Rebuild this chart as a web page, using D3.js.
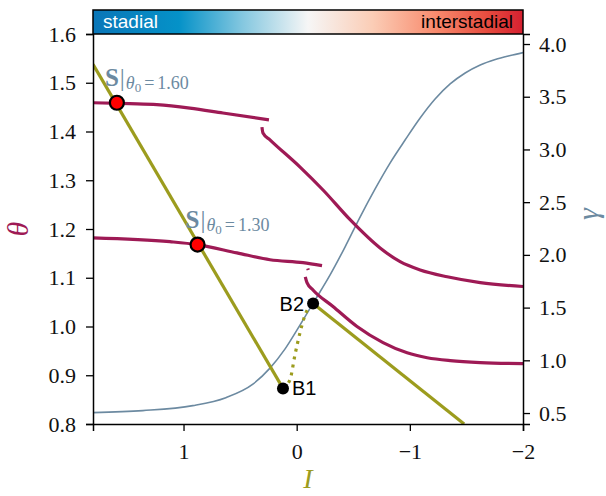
<!DOCTYPE html>
<html>
<head>
<meta charset="utf-8">
<script src="https://cdn.jsdelivr.net/npm/d3@7"></script>
<style>
  body { margin: 0; background: #fff; }
  svg text { font-family: "Liberation Serif", serif; }
</style>
</head>
<body>
<div class="chart"></div>
<script>
const W = 606;
const H = 496;
const margin = { top: 34, right: 83, bottom: 72, left: 93 };
const w = W - margin.left - margin.right;
const h = H - margin.top - margin.bottom;

// tick values
const iTicks = [1, 0, -1, -2];
const thetaTicks = [0.8, 0.9, 1.0, 1.1, 1.2, 1.3, 1.4, 1.5, 1.6];
const gammaTicks = [0.5, 1.0, 1.5, 2.0, 2.5, 3.0, 3.5, 4.0];

// gamma(I)
const gammaI = [1.8, 1.36, 0.918, 0.626, 0.387, 0.236, 0.104, -0.029, -0.162, -0.294, -0.427,
  -0.56, -0.692, -0.825, -0.958, -1.091, -1.223, -1.356, -1.489, -1.622, -1.755, -1.888, -2.0];
const gammaVal = [0.504, 0.523, 0.57, 0.646, 0.774, 0.926, 1.106, 1.334, 1.571, 1.808, 2.074,
  2.359, 2.624, 2.871, 3.089, 3.298, 3.478, 3.621, 3.725, 3.801, 3.853, 3.891, 3.919];

// trajectory theta0 = 1.60
const t160aI = [1.8, 1.475, 1.236, 0.944, 0.652, 0.245];
const t160aTheta = [1.459, 1.457, 1.455, 1.448, 1.438, 1.424];
const t160bI = [0.307, 0.298, 0.236, -0.03, -0.233, -0.472, -0.737, -0.914, -1.091, -1.33, -1.622, -2.0];
const t160bTheta = [1.409, 1.397, 1.383, 1.327, 1.28, 1.219, 1.161, 1.133, 1.116, 1.102, 1.09, 1.082];

// trajectory theta0 = 1.30
const t130aI = [1.8, 1.12, 0.882, 0.528, 0.236, -0.056, -0.224];
const t130aTheta = [1.182, 1.174, 1.168, 1.151, 1.137, 1.131, 1.125];
const t130dotI = [-0.098, -0.102];
const t130dotTheta = [1.119, 1.116];
const t130bI = [-0.076, -0.091, -0.144, -0.321, -0.533, -0.763, -0.976, -1.153, -1.357, -1.622, -2.0];
const t130bTheta = [1.102, 1.09, 1.075, 1.041, 1.0, 0.967, 0.946, 0.936, 0.93, 0.926, 0.924];

// bifurcation diagram
const upperI = [1.8, 0.121];
const upperTheta = [1.538, 0.873];
const unstableI = [0.121, 0.059, 0.015, -0.029, -0.075, -0.145];
const unstableTheta = [0.873, 0.891, 0.942, 0.987, 1.024, 1.047];
const lowerI = [-0.145, -1.48];
const lowerTheta = [1.047, 0.8];

// marked points
const bNames = ["B1", "B2"];
const bI = [0.121, -0.145];
const bTheta = [0.873, 1.047];
const sNames = ["1.60", "1.30"];
const sI = [1.589, 0.876];
const sTheta = [1.459, 1.168];

// colorbar
const cbarStops = [0, 0.2, 0.35, 0.5, 0.65, 0.8, 0.92, 1];
const cbarColors = ["#0a76b8", "#0592c8", "#86c8e0", "#f6f6f6", "#fbcdb6", "#f8896c", "#e64a3e", "#d52030"];

const maroon = "#9e1a55";
const olive = "#9c9c1e";
const slate = "#6c8aa1";

const svg = d3.select(".chart").append("svg")
  .attr("width", W).attr("height", H);

const g = svg.append("g").attr("transform", `translate(${margin.left},${margin.top})`);

const x = d3.scaleLinear().domain([1.8, -2]).range([0, w]);
const yL = d3.scaleLinear().domain([0.8, 1.6]).range([h, 0]);
const yR = d3.scaleLinear().domain([0.396, 4.095]).range([h, 0]);

g.append("clipPath").attr("id", "clip")
  .append("rect").attr("width", w).attr("height", h);

const plot = g.append("g").attr("clip-path", "url(#clip)");

const zip = (a, b) => a.map((v, i) => [v, b[i]]);
const lineL = d3.line().x(d => x(d[0])).y(d => yL(d[1])).curve(d3.curveMonotoneX);
const lineR = d3.line().x(d => x(d[0])).y(d => yR(d[1])).curve(d3.curveMonotoneX);

// gamma
plot.append("path").datum(zip(gammaI, gammaVal))
  .attr("d", lineR).attr("fill", "none").attr("stroke", slate).attr("stroke-width", 1.6);

// trajectories
[[t160aI, t160aTheta], [t160bI, t160bTheta], [t130aI, t130aTheta], [t130dotI, t130dotTheta], [t130bI, t130bTheta]]
  .forEach(([a, b]) => {
    plot.append("path").datum(zip(a, b))
      .attr("d", lineL).attr("fill", "none").attr("stroke", maroon).attr("stroke-width", 3.2);
  });

// bifurcation branches
plot.append("path").datum(zip(upperI, upperTheta))
  .attr("d", lineL).attr("fill", "none").attr("stroke", olive).attr("stroke-width", 3.2);
plot.append("path").datum(zip(lowerI, lowerTheta))
  .attr("d", lineL).attr("fill", "none").attr("stroke", olive).attr("stroke-width", 3.2);
plot.append("path").datum(zip(unstableI, unstableTheta))
  .attr("d", lineL).attr("fill", "none").attr("stroke", olive).attr("stroke-width", 3.2)
  .attr("stroke-dasharray", "3,5");

// B points
g.selectAll(".bpt").data(bNames).enter().append("circle")
  .attr("cx", (d, i) => x(bI[i])).attr("cy", (d, i) => yL(bTheta[i]))
  .attr("r", 6).attr("fill", "#000");

g.selectAll(".blab").data(bNames).enter().append("text")
  .attr("x", (d, i) => x(bI[i]) + (i === 0 ? 9 : -9))
  .attr("y", (d, i) => yL(bTheta[i]) + 7)
  .attr("text-anchor", (d, i) => (i === 0 ? "start" : "end"))
  .style("font-family", "'Liberation Sans', Arial, sans-serif")
  .style("font-size", "20px")
  .text(d => d);

// S points
g.selectAll(".spt").data(sNames).enter().append("circle")
  .attr("cx", (d, i) => x(sI[i])).attr("cy", (d, i) => yL(sTheta[i]))
  .attr("r", 7).attr("fill", "#ff0000").attr("stroke", "#000").attr("stroke-width", 2.2);

const sLab = g.selectAll(".slab").data(sNames).enter().append("text")
  .attr("x", (d, i) => x(sI[i]) - 12)
  .attr("y", (d, i) => yL(sTheta[i]) - 17)
  .attr("fill", slate);
sLab.append("tspan").style("font-weight", "bold").style("font-size", "25px").text("S");
sLab.append("tspan").style("font-size", "25px").attr("dx", 1).text("|");
sLab.append("tspan").style("font-size", "18px").style("font-style", "italic").attr("dx", 1).attr("dy", 3).text("θ");
sLab.append("tspan").style("font-size", "13px").attr("dy", 3).text("0");
sLab.append("tspan").style("font-size", "18px").attr("dx", 3).attr("dy", -3).text("=");
sLab.append("tspan").style("font-size", "18px").attr("dx", 3).text(d => d);

// axes
const axB = g.append("g").attr("transform", `translate(0,${h})`)
  .call(d3.axisBottom(x).tickValues(iTicks).tickFormat(d3.format("d")).tickSizeOuter(0).tickSize(7).tickPadding(12));
const axL = g.append("g")
  .call(d3.axisLeft(yL).tickValues(thetaTicks).tickFormat(d3.format(".1f")).tickSizeOuter(0).tickSize(7).tickPadding(10));
const axR = g.append("g").attr("transform", `translate(${w},0)`)
  .call(d3.axisRight(yR).tickValues(gammaTicks).tickFormat(d3.format(".1f")).tickSizeOuter(0).tickSize(7).tickPadding(9));

[axB, axL, axR].forEach(a => {
  a.selectAll("text").style("font-family", "'Liberation Serif', serif").style("font-size", "22px").attr("fill", "#111");
  a.selectAll("line").attr("stroke", "#000").attr("stroke-width", 1.3);
  a.select(".domain").attr("stroke", "#000").attr("stroke-width", 1.5);
});

// colorbar on top
const grad = svg.append("defs").append("linearGradient").attr("id", "cbar");
grad.selectAll("stop").data(cbarStops).enter().append("stop")
  .attr("offset", d => d).attr("stop-color", (d, i) => cbarColors[i]);
g.append("rect").attr("x", 0).attr("y", -24).attr("width", w).attr("height", 24)
  .attr("fill", "url(#cbar)").attr("stroke", "#000").attr("stroke-width", 1.5);
g.append("text").attr("x", 10).attr("y", -6)
  .style("font-family", "'Liberation Sans', Arial, sans-serif").style("font-size", "19px")
  .attr("fill", "#fff").text("stadial");
g.append("text").attr("x", w - 10).attr("y", -6).attr("text-anchor", "end")
  .style("font-family", "'Liberation Sans', Arial, sans-serif").style("font-size", "19px")
  .attr("fill", "#000").text("interstadial");

// axis labels
svg.append("text").attr("transform", "translate(28,229) rotate(-90)")
  .attr("text-anchor", "middle").style("font-style", "italic").style("font-size", "30px")
  .attr("fill", maroon).text("θ");
svg.append("text").attr("transform", "translate(598,214) rotate(-90)")
  .attr("text-anchor", "middle").style("font-style", "italic").style("font-size", "30px")
  .attr("fill", slate).text("γ");
svg.append("text").attr("x", 308).attr("y", 488)
  .attr("text-anchor", "middle").style("font-style", "italic").style("font-size", "28px")
  .attr("fill", olive).text("I");
</script>
</body>
</html>
